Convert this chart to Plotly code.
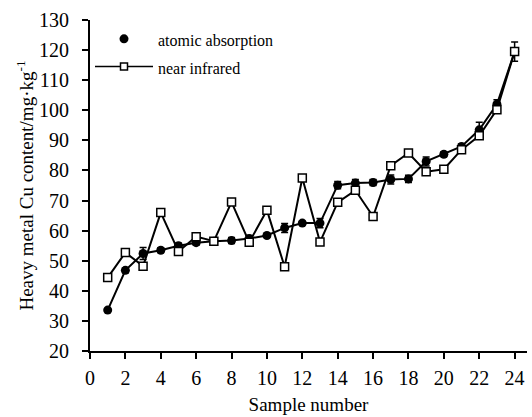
import plotly.graph_objects as go

samples = list(range(1, 25))
atomic_absorption = [33.6, 46.8, 52.4, 53.5, 55.0, 56.0, 56.5, 56.7, 57.4, 58.4, 60.9, 62.5,
                     62.5, 75.1, 75.8, 76.0, 77.0, 77.2, 83.0, 85.4, 88.0, 93.5, 102.0, 119.5]
atomic_err = [0.5, 0.8, 2.0, 0.8, 0.8, 0.8, 0.6, 1.0, 1.0, 0.6, 1.5, 0.6,
              1.5, 1.2, 1.2, 1.0, 1.5, 1.2, 1.5, 0.8, 0.8, 2.5, 1.5, 3.2]
near_infrared = [44.4, 52.7, 48.2, 66.0, 53.1, 58.0, 56.5, 69.5, 56.1, 66.8, 48.0, 77.5,
                 56.2, 69.4, 73.4, 64.7, 81.6, 85.8, 79.6, 80.4, 86.9, 91.5, 100.2, 119.5]
x_ticks = list(range(0, 25, 2))
y_ticks = list(range(20, 131, 10))
series_names = ["atomic absorption", "near infrared"]

FONT = "Liberation Serif, Times New Roman, Times, serif"

fig = go.Figure()

fig.add_trace(go.Scatter(
    x=samples, y=atomic_absorption, mode="lines+markers",
    line=dict(color="black", width=2),
    marker=dict(symbol="circle", size=9, color="black"),
    error_y=dict(type="data", array=atomic_err, visible=True, color="black", thickness=1.5, width=3.5),
    showlegend=False,
))
fig.add_trace(go.Scatter(
    x=samples, y=near_infrared, mode="lines+markers",
    line=dict(color="black", width=2),
    marker=dict(symbol="square", size=8, color="white", line=dict(color="black", width=1.5)),
    showlegend=False,
))
# legend entries
fig.add_trace(go.Scatter(
    x=[None], y=[None], mode="markers",
    name=f"<span style='font-size:16px'>{series_names[0]}</span>",
    marker=dict(symbol="circle", size=9, color="black"),
))
fig.add_trace(go.Scatter(
    x=[None], y=[None], mode="lines+markers",
    name=f"<span style='font-size:16px'>{series_names[1]}</span>",
    line=dict(color="black", width=1.5),
    marker=dict(symbol="square", size=7, color="white", line=dict(color="black", width=1.5)),
))

fig.update_layout(
    width=532, height=417,
    margin=dict(l=90, r=5, t=20, b=56),
    plot_bgcolor="white", paper_bgcolor="white",
    font=dict(family=FONT, color="black", size=19),
    legend=dict(x=0.0, y=1.0, xanchor="left", yanchor="top",
                font=dict(family=FONT, size=19), bgcolor="rgba(0,0,0,0)",
                itemwidth=58, tracegroupgap=0),
)
fig.update_xaxes(
    range=[0, 24.7], tickvals=x_ticks, ticktext=[str(v) for v in x_ticks],
    showgrid=False, zeroline=False, showline=True, linecolor="black", linewidth=2,
    ticks="outside", ticklen=6, tickwidth=2, tickcolor="black",
    tickfont=dict(family=FONT, size=20), ticklabelstandoff=2,
    title=dict(text="Sample number", font=dict(family=FONT, size=19), standoff=10),
)
fig.update_yaxes(
    range=[20, 130], tickvals=y_ticks, ticktext=[str(v) for v in y_ticks],
    showgrid=False, zeroline=False, showline=True, linecolor="black", linewidth=2,
    ticks="outside", ticklen=6, tickwidth=2, tickcolor="black",
    tickfont=dict(family=FONT, size=20), ticklabelstandoff=9,
    title=dict(text="Heavy metal Cu content/mg·kg<sup>-1</sup>", font=dict(family=FONT, size=19), standoff=0),
)

fig.write_html("out.html")
